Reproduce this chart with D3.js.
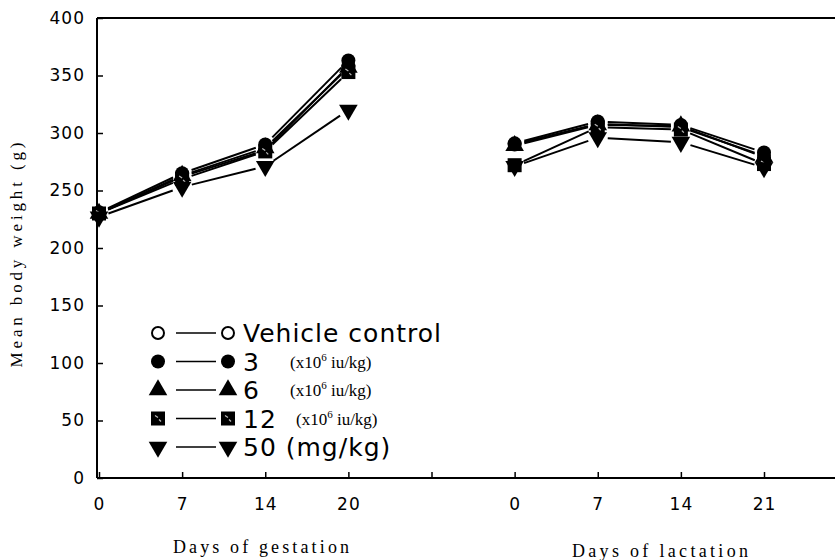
<!DOCTYPE html>
<html>
<head>
<meta charset="utf-8">
<script src="https://cdn.jsdelivr.net/npm/d3@7"></script>
<style>
  body { margin: 0; background: #fff; }
  svg { display: block; }
</style>
</head>
<body>
<div class="container"></div>
<script>
// x slots: gestation days, a blank slot, lactation days
var slots = ["g0", "g7", "g14", "g20", "gap", "l0", "l7", "l14", "l21"];
var slotLabels = ["0", "7", "14", "20", "", "0", "7", "14", "21"];
var gestSlots = ["g0", "g7", "g14", "g20"];
var lactSlots = ["l0", "l7", "l14", "l21"];
var yTicks = [0, 50, 100, 150, 200, 250, 300, 350, 400];

var groupNames = ["Vehicle control", "3", "6", "12", "50 (mg/kg)"];
var gestVehicle = [230, 262, 285, 358];
var gest3 = [231, 265, 290, 363];
var gest6 = [230, 263, 287, 357];
var gest12 = [230, 260, 284, 353];
var gest50 = [227, 253, 271, 320];
var lactVehicle = [290, 308, 305, 280];
var lact3 = [291, 310, 307, 283];
var lact6 = [289, 307, 306, 279];
var lact12 = [272, 305, 303, 273];
var lact50 = [271, 296, 292, 270];

var series = [
  {name: groupNames[0], sym: "openCircle", gest: gestVehicle, lact: lactVehicle},
  {name: groupNames[1], sym: "circle", gest: gest3, lact: lact3},
  {name: groupNames[2], sym: "triUp", gest: gest6, lact: lact6},
  {name: groupNames[3], sym: "square", gest: gest12, lact: lact12},
  {name: groupNames[4], sym: "triDown", gest: gest50, lact: lact50}
];

/* ===== SET UP CHART ===== */
var w = 835, h = 560;
var margin = {top: 18, right: 0, bottom: 82, left: 97};

var svg = d3.select('.container')
  .append('svg')
  .attr('width', w)
  .attr('height', h);

var xScale = d3.scalePoint()
  .domain(slots)
  .range([99, 764]);
var yScale = d3.scaleLinear()
  .domain([0, 400])
  .range([h - margin.bottom, margin.top]);

var tickFont = '"DejaVu Sans", sans-serif';
var serifFont = '"Liberation Serif", serif';

var xAxis = d3.axisBottom(xScale)
  .tickSize(-6)
  .tickPadding(20)
  .tickFormat(function(d, i) { return slotLabels[i]; });
var yAxis = d3.axisLeft(yScale)
  .tickValues(yTicks)
  .tickSize(-6)
  .tickPadding(12);

var gx = svg.append('g')
  .attr('transform', 'translate(0,' + yScale(0) + ')')
  .call(xAxis);
gx.select('.domain').remove();
gx.append('line')
  .attr('x1', margin.left).attr('x2', w)
  .attr('stroke', '#000').attr('stroke-width', 2);

var gy = svg.append('g')
  .attr('transform', 'translate(' + margin.left + ',0)')
  .call(yAxis);
gy.select('.domain').remove();
gy.append('line')
  .attr('y1', yScale(0)).attr('y2', yScale(400))
  .attr('stroke', '#000').attr('stroke-width', 2);

// top frame line
svg.append('line')
  .attr('x1', margin.left).attr('x2', w)
  .attr('y1', yScale(400)).attr('y2', yScale(400))
  .attr('stroke', '#000').attr('stroke-width', 2);

svg.selectAll('.tick line').attr('stroke', '#000').attr('stroke-width', 1.5);
svg.selectAll('.tick text')
  .attr('fill', '#000')
  .style('font-family', tickFont)
  .style('font-size', '17px')
  .style('letter-spacing', '1px');

/* ===== MARKERS ===== */
function drawMarker(sel, sym, x, y) {
  if (sym === "openCircle") {
    sel.append('circle').attr('cx', x).attr('cy', y).attr('r', 6)
      .attr('fill', '#fff').attr('stroke', '#000').attr('stroke-width', 2);
  } else if (sym === "circle") {
    sel.append('circle').attr('cx', x).attr('cy', y).attr('r', 7)
      .attr('fill', '#000');
  } else if (sym === "triUp") {
    sel.append('path').attr('transform', 'translate(' + x + ',' + y + ')')
      .attr('d', d3.symbol().type(d3.symbolTriangle).size(150)()).attr('fill', '#000');
  } else if (sym === "triDown") {
    sel.append('path').attr('transform', 'translate(' + x + ',' + y + ') rotate(180)')
      .attr('d', d3.symbol().type(d3.symbolTriangle).size(150)()).attr('fill', '#000');
  } else if (sym === "square") {
    sel.append('rect').attr('x', x - 7).attr('y', y - 7)
      .attr('width', 14).attr('height', 14).attr('fill', '#000');
    sel.append('path')
      .attr('d', 'M' + (x - 3) + ',' + (y - 3) + 'l3,2 M' + (x + 1) + ',' + (y + 1) + 'l2,2')
      .attr('stroke', '#bbb').attr('stroke-width', 1.2);
  }
}

/* ===== LINES ===== */
var gap = 10;
var linesG = svg.append('g');
var marksG = svg.append('g');

function drawPeriod(keys, vals, sym) {
  for (var i = 0; i < keys.length - 1; i++) {
    var x1 = xScale(keys[i]), y1 = yScale(vals[i]);
    var x2 = xScale(keys[i + 1]), y2 = yScale(vals[i + 1]);
    var dx = x2 - x1, dy = y2 - y1, len = Math.sqrt(dx * dx + dy * dy);
    linesG.append('line')
      .attr('x1', x1 + dx / len * gap).attr('y1', y1 + dy / len * gap)
      .attr('x2', x2 - dx / len * gap).attr('y2', y2 - dy / len * gap)
      .attr('stroke', '#000').attr('stroke-width', 2);
  }
  keys.forEach(function(k, i) {
    drawMarker(marksG, sym, xScale(k), yScale(vals[i]));
  });
}

series.forEach(function(s) {
  drawPeriod(gestSlots, s.gest, s.sym);
  drawPeriod(lactSlots, s.lact, s.sym);
});

/* ===== LEGEND ===== */
var legY0 = 333, legStep = 28.5;
var legend = svg.append('g');
series.forEach(function(s, i) {
  var y = legY0 + i * legStep;
  drawMarker(legend, s.sym, 158, y);
  legend.append('line').attr('x1', 176).attr('x2', 216)
    .attr('y1', y).attr('y2', y).attr('stroke', '#000').attr('stroke-width', 1.5);
  drawMarker(legend, s.sym, 228, y);
  legend.append('text')
    .attr('x', 243).attr('y', y + 9)
    .style('font-family', tickFont)
    .style('font-size', '25px')
    .style('letter-spacing', '1px')
    .text(s.name);
  if (i >= 1 && i <= 3) {
    var u = legend.append('text')
      .attr('x', i === 3 ? 296 : 290).attr('y', y + 6)
      .style('font-family', serifFont)
      .style('font-size', '17px');
    u.append('tspan').text('(x10');
    u.append('tspan').attr('dy', -7).style('font-size', '11px').text('6');
    u.append('tspan').attr('dy', 7).text(' iu/kg)');
  }
});

/* ===== LABELS ===== */
svg.append('text')
  .attr('x', 261).attr('y', 553)
  .attr('text-anchor', 'middle')
  .attr('textLength', 176)
  .style('font-family', serifFont)
  .style('font-size', '18px')
  .text('Days of gestation');

svg.append('text')
  .attr('x', 660).attr('y', 557)
  .attr('text-anchor', 'middle')
  .attr('textLength', 176)
  .style('font-family', serifFont)
  .style('font-size', '18px')
  .text('Days of lactation');

svg.append('text')
  .attr('transform', 'translate(22,' + 255 + ') rotate(-90)')
  .attr('text-anchor', 'middle')
  .attr('textLength', 225)
  .style('font-family', serifFont)
  .style('font-size', '17px')
  .text('Mean body weight (g)');
</script>
</body>
</html>
